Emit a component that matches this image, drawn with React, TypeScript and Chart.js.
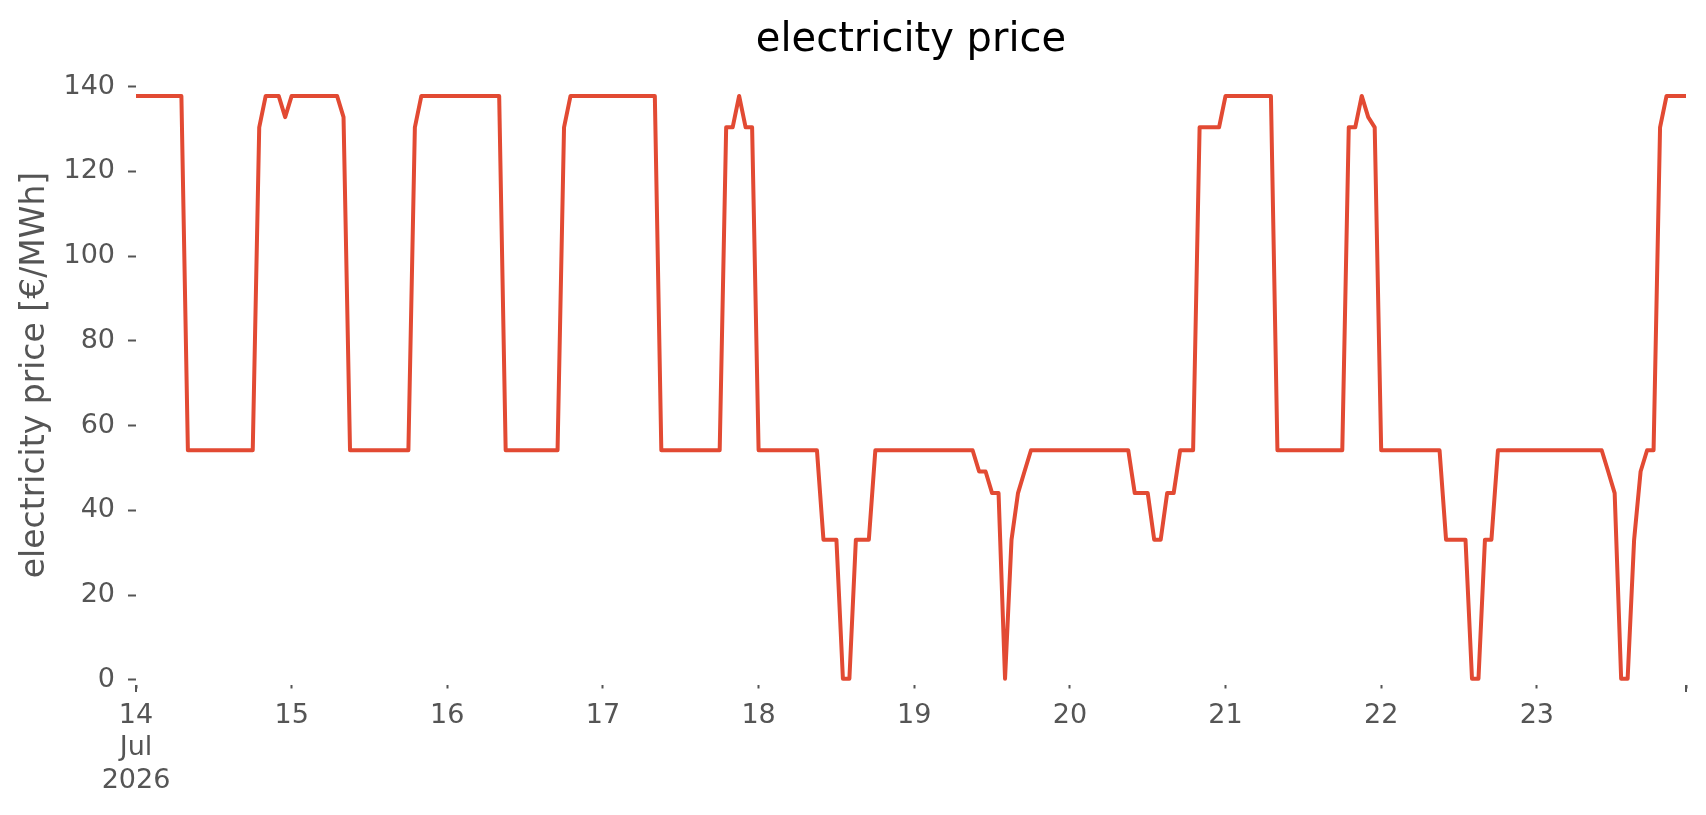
import { useEffect, useRef } from 'react';
import { Chart, registerables } from 'chart.js';

Chart.register(...registerables);

const FONT = '"DejaVu Sans", sans-serif';
const LINE_COLOR = '#E24A33';
const TEXT_COLOR = '#555555';

// hourly prices in €/MWh, one array per day (00:00 .. 23:00)
const PRICE_JUL14 = [
  137.8, 137.8, 137.8, 137.8, 137.8, 137.8, 137.8, 137.8,
  54.2, 54.2, 54.2, 54.2, 54.2, 54.2, 54.2, 54.2, 54.2, 54.2, 54.2,
  130.4, 137.8, 137.8, 137.8, 132.8,
];
const PRICE_JUL15 = [
  137.8, 137.8, 137.8, 137.8, 137.8, 137.8, 137.8, 137.8, 132.8,
  54.2, 54.2, 54.2, 54.2, 54.2, 54.2, 54.2, 54.2, 54.2, 54.2,
  130.4, 137.8, 137.8, 137.8, 137.8,
];
const PRICE_JUL16 = [
  137.8, 137.8, 137.8, 137.8, 137.8, 137.8, 137.8, 137.8, 137.8,
  54.2, 54.2, 54.2, 54.2, 54.2, 54.2, 54.2, 54.2, 54.2,
  130.4, 137.8, 137.8, 137.8, 137.8, 137.8,
];
const PRICE_JUL17 = [
  137.8, 137.8, 137.8, 137.8, 137.8, 137.8, 137.8, 137.8, 137.8,
  54.2, 54.2, 54.2, 54.2, 54.2, 54.2, 54.2, 54.2, 54.2, 54.2,
  130.4, 130.4, 137.8, 130.4, 130.4,
];
const PRICE_JUL18 = [
  54.2, 54.2, 54.2, 54.2, 54.2, 54.2, 54.2, 54.2, 54.2, 54.2,
  33.1, 33.1, 33.1, 0.3, 0.3, 33.1, 33.1, 33.1,
  54.2, 54.2, 54.2, 54.2, 54.2, 54.2,
];
const PRICE_JUL19 = [
  54.2, 54.2, 54.2, 54.2, 54.2, 54.2, 54.2, 54.2, 54.2, 54.2,
  49.2, 49.2, 44.1, 44.1, 0.3, 33.1, 44.1, 49.2,
  54.2, 54.2, 54.2, 54.2, 54.2, 54.2,
];
const PRICE_JUL20 = [
  54.2, 54.2, 54.2, 54.2, 54.2, 54.2, 54.2, 54.2, 54.2, 54.2,
  44.1, 44.1, 44.1, 33.1, 33.1, 44.1, 44.1,
  54.2, 54.2, 54.2, 130.4, 130.4, 130.4, 130.4,
];
const PRICE_JUL21 = [
  137.8, 137.8, 137.8, 137.8, 137.8, 137.8, 137.8, 137.8,
  54.2, 54.2, 54.2, 54.2, 54.2, 54.2, 54.2, 54.2, 54.2, 54.2, 54.2,
  130.4, 130.4, 137.8, 132.8, 130.4,
];
const PRICE_JUL22 = [
  54.2, 54.2, 54.2, 54.2, 54.2, 54.2, 54.2, 54.2, 54.2, 54.2,
  33.1, 33.1, 33.1, 33.1, 0.3, 0.3, 33.1, 33.1,
  54.2, 54.2, 54.2, 54.2, 54.2, 54.2,
];
const PRICE_JUL23 = [
  54.2, 54.2, 54.2, 54.2, 54.2, 54.2, 54.2, 54.2, 54.2, 54.2, 54.2,
  49.2, 44.1, 0.3, 0.3, 33.1, 49.2, 54.2, 54.2,
  130.4, 137.8, 137.8, 137.8, 137.8,
];

const PRICES = [
  ...PRICE_JUL14, ...PRICE_JUL15, ...PRICE_JUL16, ...PRICE_JUL17, ...PRICE_JUL18,
  ...PRICE_JUL19, ...PRICE_JUL20, ...PRICE_JUL21, ...PRICE_JUL22, ...PRICE_JUL23,
];

// x ticks in hours since 14 Jul 00:00; last one is the final sample
const DAY_TICKS = [0, 24, 48, 72, 96, 120, 144, 168, 192, 216, 239];
const DAY_LABELS: (string | string[])[] = [
  ['14', 'Jul', '2026'], '15', '16', '17', '18', '19', '20', '21', '22', '23', '',
];
const MAJOR_TICKS = [0, 239];
const Y_TICKS = [0, 20, 40, 60, 80, 100, 120, 140];

// longer marks for the major ticks, and the title centred over the plot area
const axisTweaks = {
  id: 'axisTweaks',
  afterLayout(chart: any) {
    const t = chart.titleBlock;
    if (t) {
      t.left = chart.chartArea.left;
      t.right = chart.chartArea.right;
    }
  },
  afterDraw(chart: Chart) {
    const x = chart.scales.x;
    const ctx = chart.ctx;
    ctx.save();
    ctx.strokeStyle = TEXT_COLOR;
    ctx.lineWidth = 2;
    for (const v of MAJOR_TICKS) {
      const px = x.getPixelForValue(v);
      ctx.beginPath();
      ctx.moveTo(px, x.top);
      ctx.lineTo(px, x.top + 7);
      ctx.stroke();
    }
    ctx.restore();
  },
};

function PriceChart() {
  const ref = useRef<HTMLCanvasElement>(null);

  useEffect(() => {
    if (!ref.current) return;
    const chart = new Chart(ref.current, {
      type: 'line',
      data: {
        datasets: [
          {
            label: 'electricity price',
            data: PRICES.map((y, x) => ({ x, y })),
            borderColor: LINE_COLOR,
            borderWidth: 4,
            pointRadius: 0,
            tension: 0,
            borderJoinStyle: 'round',
            fill: false,
          },
        ],
      },
      options: {
        animation: false,
        responsive: true,
        maintainAspectRatio: false,
        layout: { padding: { left: 0, right: 20, top: 0, bottom: 0 } },
        plugins: {
          legend: { display: false },
          tooltip: { enabled: false },
          title: {
            display: true,
            text: 'electricity price',
            color: '#000000',
            font: { family: FONT, size: 40, weight: 'normal' },
            padding: { top: 17, bottom: 0 },
          },
        },
        scales: {
          x: {
            type: 'linear',
            min: 0,
            max: 239,
            border: { display: false },
            grid: {
              drawOnChartArea: false,
              tickLength: 3.5,
              tickColor: TEXT_COLOR,
              tickWidth: 2,
            },
            ticks: {
              autoSkip: false,
              maxRotation: 0,
              padding: 11,
              color: TEXT_COLOR,
              font: { family: FONT, size: 27 },
              callback: (_v, i) => DAY_LABELS[i],
            },
            afterBuildTicks: (s) => {
              s.ticks = DAY_TICKS.map((value) => ({ value }));
            },
            afterFit: (s) => {
              s.height = 130;
            },
          },
          y: {
            min: -1.18,
            max: 145.1,
            border: { display: false },
            grid: {
              drawOnChartArea: false,
              tickLength: 8,
              tickColor: TEXT_COLOR,
              tickWidth: 2,
            },
            ticks: {
              padding: 13,
              color: TEXT_COLOR,
              font: { family: FONT, size: 27 },
            },
            title: {
              display: true,
              text: 'electricity price [€/MWh]',
              color: TEXT_COLOR,
              font: { family: FONT, size: 33 },
              padding: { top: 16, bottom: 0 },
            },
            afterBuildTicks: (s) => {
              s.ticks = Y_TICKS.map((value) => ({ value }));
            },
            afterFit: (s) => {
              s.width = 136;
            },
          },
        },
      },
      plugins: [axisTweaks],
    });
    return () => chart.destroy();
  }, []);

  return (
    <div style={{ width: 1706, height: 815, position: 'relative', background: '#ffffff' }}>
      <canvas ref={ref} />
    </div>
  );
}

export default function App() {
  useEffect(() => {
    document.body.style.margin = '0';
  }, []);
  return <PriceChart />;
}
